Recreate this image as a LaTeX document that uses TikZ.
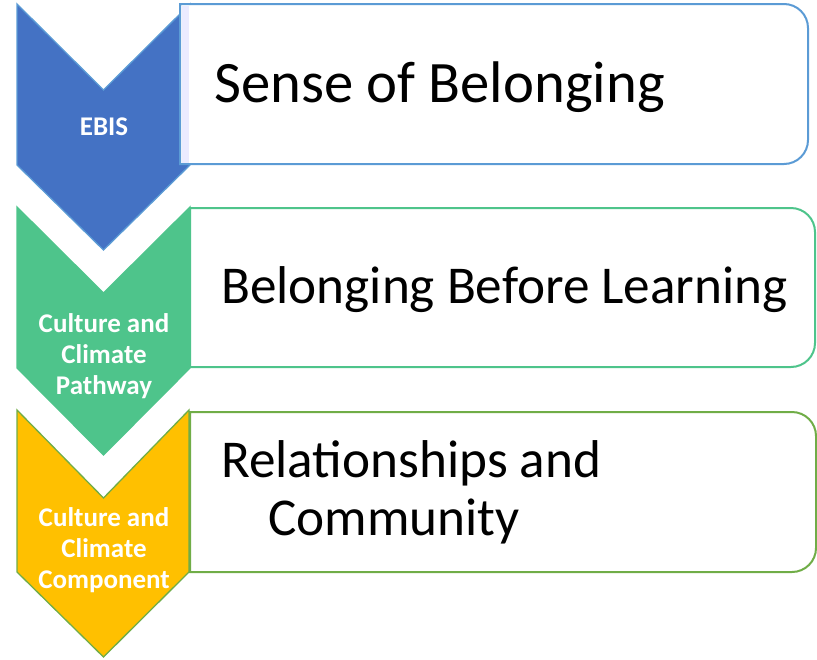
\documentclass[tikz,border=0pt]{standalone}
\usepackage{fontspec}
\setmainfont{Carlito}
\definecolor{cblue}{HTML}{4472C4}
\definecolor{cblueline}{HTML}{5B9BD5}
\definecolor{cgreen}{HTML}{4EC48B}
\definecolor{cyellow}{HTML}{FFC000}
\definecolor{cgreenline}{HTML}{70AD47}
\tikzset{
  chev/.style={line width=1.3pt, line join=miter},
  panel/.style={line width=2pt, fill=white},
  lab/.style={text=white, font=\bfseries\fontsize{27}{31}\selectfont, align=center, inner sep=0pt},
  big/.style={font=\fontsize{58.7}{60}\selectfont, inner sep=0pt, anchor=base west},
  mid/.style={font=\fontsize{53.2}{53}\selectfont, inner sep=0pt, anchor=base west},
}
\begin{document}
\begin{tikzpicture}[x=1pt,y=-1pt]
\useasboundingbox (0,0) rectangle (817,659);
% chevron 1
\draw[chev, fill=cblue, draw=cblueline] (17,4) -- (103.5,90) -- (190,4) -- (190,165) -- (103.5,250) -- (17,165) -- cycle;
% panel 1
\draw[panel, draw=cblueline] (180,4) -- (784,4) arc[start angle=-90, end angle=0, radius=24] -- (808,140) arc[start angle=0, end angle=90, radius=24] -- (180,164) -- cycle;
\fill[blue!8!white] (181.5,5.5) rectangle (189,162.5);
\node[lab, anchor=base] (l1) at (104,135) {EBIS};
\node[big] (t1) at (214,102) {Sense of Belonging};
% chevron 2
\draw[chev, fill=cgreen, draw=cgreen] (17,207) -- (103.5,293) -- (190,207) -- (190,368) -- (103.5,455) -- (17,368) -- cycle;
\draw[panel, draw=cgreen] (190,208) -- (791,208) arc[start angle=-90, end angle=0, radius=24] -- (815,343) arc[start angle=0, end angle=90, radius=24] -- (190,367) -- cycle;
\node[lab, anchor=base] (l2a) at (104,332) {Culture and};
\node[lab, anchor=base] (l2b) at (104,363) {Climate};
\node[lab, anchor=base] (l2c) at (104,394) {Pathway};
\node[mid] (t2) at (221,303) {Belonging Before Learning};
% chevron 3
\draw[chev, fill=cyellow, draw=cgreenline] (17,410) -- (103.5,498) -- (189,410) -- (189,572) -- (103.5,657) -- (17,572) -- cycle;
\draw[panel, draw=cgreenline] (190,412) -- (792,412) arc[start angle=-90, end angle=0, radius=24] -- (816,548) arc[start angle=0, end angle=90, radius=24] -- (190,572) -- cycle;
\node[lab, anchor=base] (l3a) at (104,526) {Culture and};
\node[lab, anchor=base] (l3b) at (104,557) {Climate};
\node[lab, anchor=base] (l3c) at (104,588) {Component};
\node[mid] (t3a) at (221,477) {Relationships and};
\node[mid] (t3b) at (268,535) {Community};
\end{tikzpicture}
\end{document}
